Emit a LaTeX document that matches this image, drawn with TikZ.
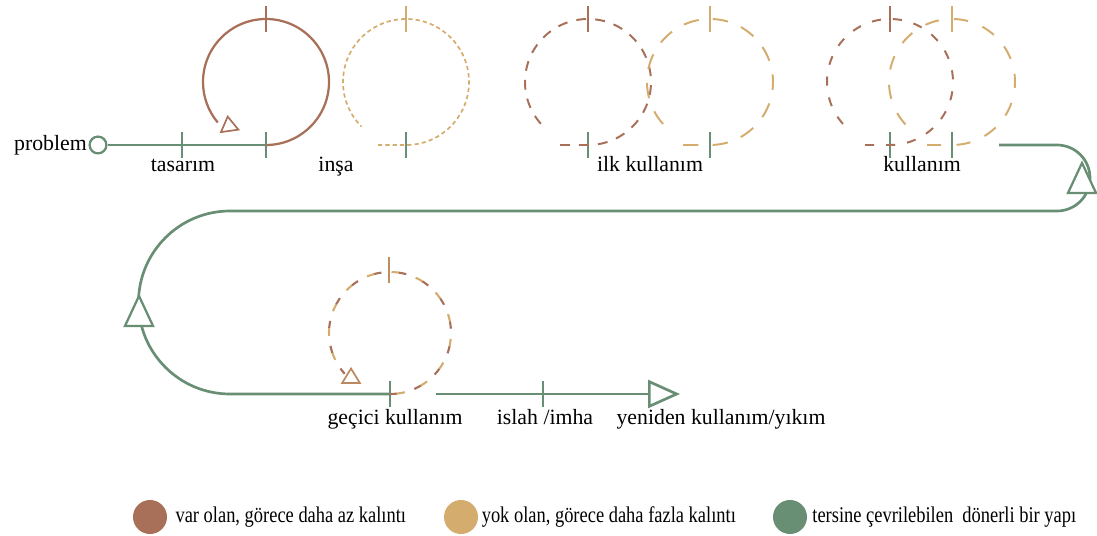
\documentclass[tikz,border=0pt]{standalone}
\usepackage{fontspec}
\setmainfont{Liberation Serif}
\newfontfamily\legendfont[FakeStretch=0.82]{Liberation Serif}
\usepackage{tikz}
\usetikzlibrary{arrows.meta,shapes.geometric,positioning,calc}
\usepackage{xcolor}
\definecolor{relicbrown}{RGB}{168,112,88}
\definecolor{relictan}{RGB}{212,172,110}
\definecolor{loopgreen}{RGB}{104,142,116}

\begin{document}
\begin{tikzpicture}[x=0.025cm, y=-0.025cm, font=\fontsize{15.5}{18}\selectfont,
    flow/.style={loopgreen, line width=1.9pt},
    tickmark/.style={line width=1.4pt},
    phase/.style={anchor=base, inner sep=0pt},
    backarrow/.style={draw=loopgreen, line width=1.6pt, fill=white, isosceles triangle,
      shape border rotate=90, isosceles triangle stretches, inner sep=0pt,
      minimum width=0.7cm, minimum height=0.75cm, anchor=apex},
    looparrow/.style={isosceles triangle, shape border rotate=90, isosceles triangle stretches,
      inner sep=0pt, fill=white, line width=1.2pt, minimum width=0.44cm, minimum height=0.36cm},
    swatch/.style={circle, minimum size=0.85cm, inner sep=0pt},
    legend/.style={inner sep=0pt, font=\legendfont\fontsize{16}{18}\selectfont}]
        \useasboundingbox (0,0) rectangle (1097,536);

        % Phase points on the green line
        \node[draw=loopgreen, line width=1.6pt, circle, minimum size=0.42cm, inner sep=0pt] (start) at (98,145) {};
        \coordinate (tasarim) at (182,145);
        \coordinate (insa) at (266,145);
        \coordinate (insaB) at (406,145);
        \coordinate (ilkA) at (588,145);
        \coordinate (ilkB) at (710,145);
        \coordinate (kulA) at (890,145);
        \coordinate (kulB) at (952,145);
        \coordinate (ret) at (999,145);
        \coordinate (turnL) at (230,211);
        \coordinate (gecici) at (390,394);
        \coordinate (resume) at (436,394);
        \coordinate (islah) at (543,394);
        \coordinate (yeniden) at (680,394);

        % Green line
        \draw[flow] (start) -- (insa);
        \draw[flow] (ret) -- ++(58,0) arc[start angle=-90, end angle=90, radius=33]
          -- (turnL) arc[start angle=-90, end angle=-270, radius=91.5] -- (gecici);
        \draw[flow, -{Triangle[open, length=0.8cm, width=0.7cm]}] (resume) -- (yeniden);
        \node[backarrow] (revR) at (1082,160) {};
        \node[backarrow] (revL) at (139,293) {};
        \foreach \p in {tasarim, insa, insaB, ilkA, ilkB, kulA, kulB, gecici, islah}{
          \draw[tickmark, loopgreen] ($(\p)+(0,-13)$) -- ($(\p)+(0,13)$);
        }

        % Loops above the line
        \draw[relicbrown, line width=1.6pt] (insa) arc[start angle=90, end angle=-220, radius=63];
        \node[looparrow, draw=relicbrown, rotate=8] (arrA) at (229,126) {};
        \draw[relictan, line width=1.2pt, dash pattern=on 3pt off 2.2pt]
          (378,145) -- (insaB) arc[start angle=90, end angle=-225, radius=63];
        \draw[relicbrown, line width=1.4pt, dash pattern=on 7pt off 6.5pt]
          (560,145) -- (ilkA) arc[start angle=90, end angle=-225, radius=63];
        \draw[relictan, line width=1.4pt, dash pattern=on 11pt off 10pt]
          (683,145) -- (ilkB) arc[start angle=90, end angle=-225, radius=63];
        \draw[relicbrown, line width=1.4pt, dash pattern=on 6.5pt off 8.5pt]
          (865,145) -- (kulA) arc[start angle=90, end angle=-225, radius=63];
        \draw[relictan, line width=1.4pt, dash pattern=on 10pt off 11pt]
          (927,145) -- (kulB) arc[start angle=90, end angle=-225, radius=63];
        \foreach \x/\c in {266/relicbrown, 406/relictan, 588/relicbrown,
                           710/relictan, 890/relicbrown, 952/relictan}{
          \draw[tickmark, \c] (\x,6) -- (\x,32);
        }

        % Temporary use loop
        \draw[relicbrown, line width=1.5pt, dash pattern=on 5.3pt off 12.5pt]
          (gecici) arc[start angle=90, end angle=-222, radius=61];
        \draw[relictan, line width=1.5pt, dash pattern=on 0pt off 5.3pt on 5.3pt off 7.2pt]
          (gecici) arc[start angle=90, end angle=-222, radius=61];
        \node[looparrow, draw=relicbrown!60!relictan] (arrB) at (351,378) {};
        \draw[tickmark, relicbrown!50!relictan] (389,257) -- (389,283);

        % Labels
        \node[anchor=east, inner sep=1pt] (problemlbl) at (start.west) {problem};
        \node[phase] (tasarimlbl) at (183,172) {tasarım};
        \node[phase] (insalbl) at (336,172) {inşa};
        \node[phase] (ilklbl) at (650,172) {ilk kullanım};
        \node[phase] (kullbl) at (922,172) {kullanım};
        \node[phase] (geciclbl) at (395,425) {geçici kullanım};
        \node[phase] (islahlbl) at (545,425) {islah /imha};
        \node[phase] (yenidenlbl) at (721,425) {yeniden kullanım/yıkım};

        % Legend
        \node[swatch, fill=relicbrown] (varolan) at (150,517) {};
        \node[legend, right=0.2cm of varolan] (varolanlbl) {var olan, görece daha az kalıntı};
        \node[swatch, fill=relictan] (yokolan) at (461,517) {};
        \node[legend, right=0.08cm of yokolan] (yokolanlbl) {yok olan, görece daha fazla kalıntı};
        \node[swatch, fill=loopgreen] (tersine) at (790,517) {};
        \node[legend, right=0.12cm of tersine] (tersinelbl) {tersine çevrilebilen\ \ dönerli bir yapı};
      \end{tikzpicture}
\end{document}
